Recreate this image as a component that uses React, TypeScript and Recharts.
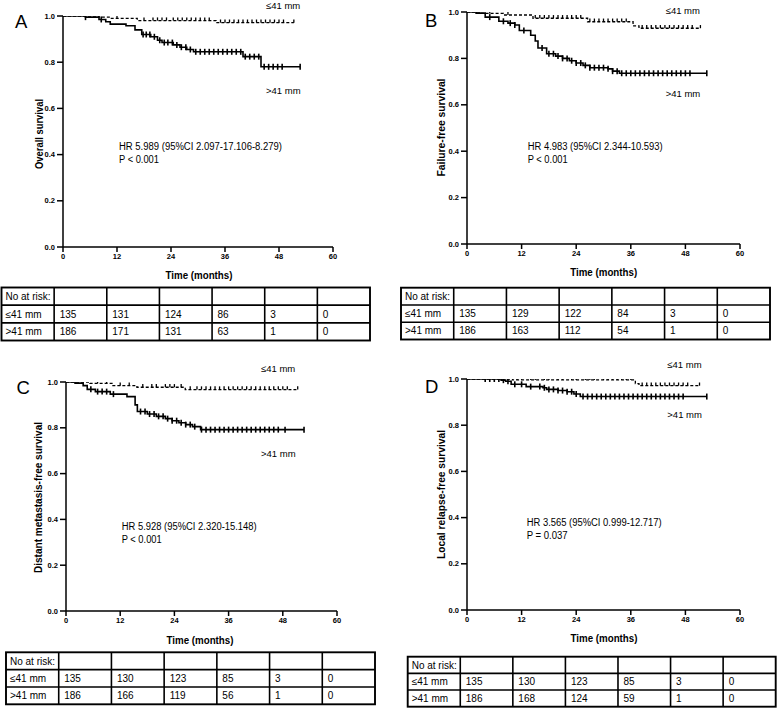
import React from "react";
import { LineChart, Line, XAxis, YAxis } from "recharts";

// ---------- data (Kaplan-Meier step points: [month, survival]) ----------
const xTicks = [0, 12, 24, 36, 48, 60];
const yTicks = [0, 0.2, 0.4, 0.6, 0.8, 1.0];
const riskTimes = ["No at risk:", "", "", "", "", "", ""];
const groupLabels = ["\u226441 mm", ">41 mm"];

// A: Overall survival
const osLe = [[0, 1], [8, 0.995], [10.5, 0.99], [16.5, 0.98], [34, 0.971], [51.3, 0.971]];
const osGt = [[0, 1], [5, 0.995], [8, 0.985], [9.5, 0.975], [10.5, 0.965], [14, 0.958], [16, 0.94], [17.5, 0.92], [19.5, 0.91], [21, 0.895], [22, 0.885], [24.5, 0.875], [26, 0.865], [27.5, 0.855], [29, 0.845], [40, 0.824], [44, 0.78], [52.7, 0.78]];
const osLeCens = [12, 18, 20, 21, 22, 23, 24.5, 25.5, 26.5, 27.5, 28.5, 29.5, 30.5, 31.5, 32.5, 35, 36, 37, 38, 39, 40, 41, 42, 43, 44, 45, 46, 47, 48, 49, 51.3];
const osGtCens = [5, 8.5, 17.8, 18.5, 19.3, 20.3, 21.5, 22.5, 23.3, 24.3, 25.3, 26.3, 27.3, 28.3, 29.5, 30.5, 31.5, 32.5, 33.5, 34.5, 35.5, 36.5, 37.5, 38.5, 39.5, 40.5, 41.5, 42.5, 43.5, 44.7, 45.7, 46.7, 47.7, 48.7, 52.7];
const osRiskLe = [135, 131, 124, 86, 3, 0];
const osRiskGt = [186, 171, 131, 63, 1, 0];

// B: Failure-free survival
const ffsLe = [[0, 1], [3, 0.994], [8, 0.987], [14.5, 0.973], [26.5, 0.958], [36.5, 0.94], [37.8, 0.93], [51.3, 0.93]];
const ffsGt = [[0, 1], [2, 0.995], [4, 0.978], [7, 0.96], [9, 0.952], [10.5, 0.944], [11.5, 0.92], [14, 0.9], [15, 0.875], [15.6, 0.845], [17.5, 0.82], [19.5, 0.81], [21, 0.8], [22.5, 0.79], [24, 0.78], [25.5, 0.77], [27, 0.76], [31, 0.755], [32, 0.745], [33.5, 0.736], [52.7, 0.736]];
const ffsLeCens = [5, 9, 15, 16, 17, 18, 19, 20, 21, 22, 23, 24, 25, 27, 28, 29, 30, 31, 32, 33, 34, 35, 38.5, 39.5, 40.5, 41.5, 42.5, 43.5, 44.5, 45.5, 46.5, 47.5, 48.5, 49.5, 51.3];
const ffsGtCens = [5, 8, 9.5, 10.5, 12.5, 16.5, 18, 19, 20, 21, 22, 23, 24, 25, 26, 27, 28, 29, 30, 31, 32, 33, 34, 35, 36, 37, 38, 39, 40, 41, 42, 43, 44, 45, 46, 47, 48, 49, 52.7];
const ffsRiskLe = [135, 129, 122, 84, 3, 0];
const ffsRiskGt = [186, 163, 112, 54, 1, 0];

// C: Distant metastasis-free survival
const dmfsLe = [[0, 1], [5.3, 0.994], [10.4, 0.984], [15.7, 0.977], [26.4, 0.967], [51.3, 0.967]];
const dmfsGt = [[0, 1], [2, 0.995], [3.8, 0.984], [4.7, 0.968], [6.5, 0.958], [9.8, 0.947], [13.5, 0.936], [15.3, 0.9], [15.8, 0.871], [18, 0.86], [20, 0.85], [22, 0.84], [23.5, 0.831], [25, 0.822], [26.5, 0.814], [28, 0.805], [29.8, 0.792], [52.7, 0.792]];
const dmfsLeCens = [7, 9, 12, 14, 17, 19, 20, 22, 23, 24, 25.5, 27.5, 29, 30, 31, 32, 33, 34, 35, 36, 37, 38, 39, 40, 41, 42, 43, 44, 45, 46, 47, 48, 49, 51.3];
const dmfsGtCens = [5.5, 7, 8, 9, 10.5, 16.5, 17.5, 18.5, 19.5, 20.5, 21.5, 22.5, 23.5, 24.5, 25.5, 26.5, 27.5, 28.5, 30, 31, 32, 33, 34, 35, 36, 37, 38, 39, 40, 41, 42, 43, 44, 45, 46, 47, 48.5, 52.7];
const dmfsRiskLe = [135, 130, 123, 85, 3, 0];
const dmfsRiskGt = [186, 166, 119, 56, 1, 0];

// D: Local relapse-free survival
const lrfsLe = [[0, 1], [10, 0.996], [37, 0.98], [37.8, 0.971], [51.1, 0.971]];
const lrfsGt = [[0, 1], [7.5, 0.995], [8.5, 0.99], [9.7, 0.977], [13, 0.967], [16.7, 0.962], [17.5, 0.955], [20, 0.95], [22, 0.945], [23.5, 0.935], [24.9, 0.924], [52.7, 0.924]];
const lrfsLeCens = [8, 9, 11, 12, 14, 15, 17, 18, 20, 21, 23, 24, 26, 27, 28, 30, 31, 32, 33, 34, 35, 36, 38.5, 39.5, 40.5, 41.5, 42.5, 43.5, 44.5, 45.5, 46.5, 47.5, 48.5, 51.1];
const lrfsGtCens = [4, 5, 6, 7, 8, 9, 10.5, 12, 14, 16, 17, 18, 19, 20, 21, 22, 23, 24, 25.5, 26.5, 27.5, 28.5, 29.5, 30.5, 31.5, 32.5, 33.5, 34.5, 35.5, 36.5, 37.5, 38.5, 39.5, 40.5, 41.5, 42.5, 43.5, 44.5, 45.5, 46.5, 47.5, 52.7];
const lrfsRiskLe = [135, 130, 123, 85, 3, 0];
const lrfsRiskGt = [186, 168, 124, 59, 1, 0];

// ---------- helpers ----------
const FONT = "'Liberation Sans', Arial, sans-serif";
const toPts = (arr: number[][]) => arr.map(([t, s]) => ({ t, s }));
const survAt = (curve: number[][], t: number) => {
  let s = curve[0][1];
  for (const [ti, si] of curve) if (ti <= t) s = si;
  return s;
};
const censPts = (curve: number[][], times: number[]) => times.map((t) => ({ t, s: survAt(curve, t) }));

const tickUp = (p: any) => {
  const { cx, cy, index } = p;
  if (cx == null || cy == null) return <g key={"u" + index} />;
  return <path key={"u" + index} d={`M${cx},${cy - 3.2}V${cy}`} stroke="#000" strokeWidth={1.3} fill="none" />;
};
const tickCross = (p: any) => {
  const { cx, cy, index } = p;
  if (cx == null || cy == null) return <g key={"c" + index} />;
  return <path key={"c" + index} d={`M${cx},${cy - 3}V${cy + 3}`} stroke="#000" strokeWidth={1.6} fill="none" />;
};

type Geo = { L: number; R: number; T: number; B: number };

function Panel({ g, le, gt, leC, gtC }: { g: Geo; le: number[][]; gt: number[][]; leC: number[]; gtC: number[] }) {
  const x0 = g.L - 60;
  const y0 = g.T - 10;
  const W = g.R - x0 + 20;
  const H = g.B - y0 + 40;
  const axisStyle = { stroke: "#000", strokeWidth: 1.5 };
  return (
    <div style={{ position: "absolute", left: x0, top: y0 }}>
      <LineChart width={W} height={H} margin={{ top: 10, right: 20, bottom: 10, left: 0 }}>
        <XAxis
          type="number"
          dataKey="t"
          domain={[0, 60]}
          ticks={xTicks}
          height={30}
          tickSize={5}
          tickMargin={2}
          axisLine={axisStyle}
          tickLine={axisStyle}
          tick={{ fontSize: 7.5, fontWeight: 700, fill: "#000", fontFamily: FONT }}
          allowDataOverflow
        />
        <YAxis
          type="number"
          domain={[0, 1]}
          ticks={yTicks}
          width={60}
          tickSize={6}
          tickMargin={2}
          axisLine={axisStyle}
          tickLine={axisStyle}
          tickFormatter={(v: number) => v.toFixed(1)}
          tick={{ fontSize: 7.5, fontWeight: 700, fill: "#000", fontFamily: FONT }}
          allowDataOverflow
        />
        <Line data={toPts(le)} dataKey="s" type="stepAfter" stroke="#000" strokeWidth={1.3} strokeDasharray="3 2" dot={false} isAnimationActive={false} />
        <Line data={toPts(gt)} dataKey="s" type="stepAfter" stroke="#000" strokeWidth={1.6} dot={false} isAnimationActive={false} />
        <Line data={censPts(le, leC)} dataKey="s" stroke="none" dot={tickUp} activeDot={false} isAnimationActive={false} />
        <Line data={censPts(gt, gtC)} dataKey="s" stroke="none" dot={tickCross} activeDot={false} isAnimationActive={false} />
      </LineChart>
    </div>
  );
}

function RiskTable({ L, R, T, B, le, gt }: { L: number; R: number; T: number; B: number; le: number[]; gt: number[] }) {
  const cw = (R - L) / 7;
  const rh = (B - T) / 3;
  const rows = [riskTimes, [groupLabels[0], ...le.map(String)], [groupLabels[1], ...gt.map(String)]];
  return (
    <g>
      <rect x={L} y={T} width={R - L} height={B - T} fill="none" stroke="#000" strokeWidth={1.9} />
      {[1, 2].map((r) => (
        <line key={"r" + r} x1={L} x2={R} y1={T + r * rh} y2={T + r * rh} stroke="#000" strokeWidth={1.6} />
      ))}
      {[1, 2, 3, 4, 5, 6].map((c) => (
        <line key={"c" + c} x1={L + c * cw} x2={L + c * cw} y1={T} y2={B} stroke="#000" strokeWidth={1.6} />
      ))}
      {rows.map((row, ri) =>
        row.map((txt, ci) =>
          txt ? (
            <text key={ri + "-" + ci} x={L + ci * cw + (ci === 0 ? 4 : 5.5)} y={T + ri * rh + rh / 2 + 3.6} fontSize={10} fontFamily={FONT} fill="#000">
              {txt}
            </text>
          ) : null
        )
      )}
    </g>
  );
}

const G_A: Geo = { L: 63, R: 333, T: 16, B: 247 };
const G_B: Geo = { L: 467, R: 740, T: 12, B: 244 };
const G_C: Geo = { L: 66, R: 337, T: 382, B: 611 };
const G_D: Geo = { L: 467, R: 740, T: 379, B: 610 };

function YTitle({ x, y, len, text }: { x: number; y: number; len: number; text: string }) {
  return (
    <text transform={`translate(${x},${y}) rotate(-90)`} textAnchor="middle" fontSize={11.5} fontWeight={700} fontFamily={FONT} textLength={len} lengthAdjust="spacingAndGlyphs">
      {text}
    </text>
  );
}

function HR({ x, y1, y2, l1, w1, l2, w2 }: { x: number; y1: number; y2: number; l1: string; w1: number; l2: string; w2: number }) {
  return (
    <g fontSize={10} fontFamily={FONT} fill="#000">
      <text x={x} y={y1} textLength={w1} lengthAdjust="spacingAndGlyphs">{l1}</text>
      <text x={x} y={y2} textLength={w2} lengthAdjust="spacingAndGlyphs">{l2}</text>
    </g>
  );
}

function GroupLabels({ x, yLe, yGt }: { x: number; yLe: number; yGt: number }) {
  return (
    <g fontSize={9.5} fontFamily={FONT} fill="#000">
      <text x={x} y={yLe}>{groupLabels[0]}</text>
      <text x={x} y={yGt}>{groupLabels[1]}</text>
    </g>
  );
}

export default function App() {
  return (
    <div style={{ position: "absolute", left: 0, top: 0, width: 778, height: 709, background: "#fff", overflow: "hidden" }}>
      <Panel g={G_A} le={osLe} gt={osGt} leC={osLeCens} gtC={osGtCens} />
      <Panel g={G_B} le={ffsLe} gt={ffsGt} leC={ffsLeCens} gtC={ffsGtCens} />
      <Panel g={G_C} le={dmfsLe} gt={dmfsGt} leC={dmfsLeCens} gtC={dmfsGtCens} />
      <Panel g={G_D} le={lrfsLe} gt={lrfsGt} leC={lrfsLeCens} gtC={lrfsGtCens} />
      <svg width={778} height={709} style={{ position: "absolute", left: 0, top: 0, pointerEvents: "none" }}>
        {/* panel letters */}
        <g fontSize={18.5} fontFamily={FONT} fill="#000">
          <text x={15} y={28.3}>A</text>
          <text x={425} y={26.7}>B</text>
          <text x={16.5} y={394.3}>C</text>
          <text x={425} y={393.3}>D</text>
        </g>
        {/* axis titles */}
        <g fontSize={10} fontWeight={700} fontFamily={FONT} fill="#000" textAnchor="middle">
          <text x={199} y={278.5} textLength={67} lengthAdjust="spacingAndGlyphs">Time (months)</text>
          <text x={603.7} y={276} textLength={67} lengthAdjust="spacingAndGlyphs">Time (months)</text>
          <text x={200} y={643.5} textLength={67} lengthAdjust="spacingAndGlyphs">Time (months)</text>
          <text x={604} y={641.5} textLength={67} lengthAdjust="spacingAndGlyphs">Time (months)</text>
        </g>
        <YTitle x={43.3} y={134} len={70} text="Overall survival" />
        <YTitle x={445} y={127.5} len={98} text="Failure-free survival" />
        <YTitle x={42.3} y={497.5} len={151} text="Distant metastasis-free survival" />
        <YTitle x={445} y={494.5} len={129} text="Local relapse-free survival" />
        {/* HR annotations */}
        <HR x={119} y1={150} y2={162.5} l1="HR 5.989 (95%CI 2.097-17.106-8.279)" w1={163} l2="P < 0.001" w2={40} />
        <HR x={527.7} y1={150} y2={163.3} l1="HR 4.983 (95%CI 2.344-10.593)" w1={135} l2="P < 0.001" w2={40} />
        <HR x={121.7} y1={529.5} y2={542.5} l1="HR 5.928 (95%CI 2.320-15.148)" w1={135} l2="P < 0.001" w2={40} />
        <HR x={526.7} y1={525.5} y2={539} l1="HR 3.565 (95%CI 0.999-12.717)" w1={135} l2="P = 0.037" w2={41} />
        {/* group labels */}
        <GroupLabels x={266} yLe={9} yGt={94} />
        <GroupLabels x={665.7} yLe={14} yGt={97.3} />
        <GroupLabels x={261} yLe={372.3} yGt={456.7} />
        <GroupLabels x={667.3} yLe={368.3} yGt={417.7} />
        {/* at-risk tables */}
        <RiskTable L={1.5} R={370} T={287.5} B={340.5} le={osRiskLe} gt={osRiskGt} />
        <RiskTable L={401} R={770} T={287.7} B={339.5} le={ffsRiskLe} gt={ffsRiskGt} />
        <RiskTable L={6} R={375} T={652.3} B={704.3} le={dmfsRiskLe} gt={dmfsRiskGt} />
        <RiskTable L={407.7} R={775.7} T={656.7} B={706.7} le={lrfsRiskLe} gt={lrfsRiskGt} />
      </svg>
    </div>
  );
}
